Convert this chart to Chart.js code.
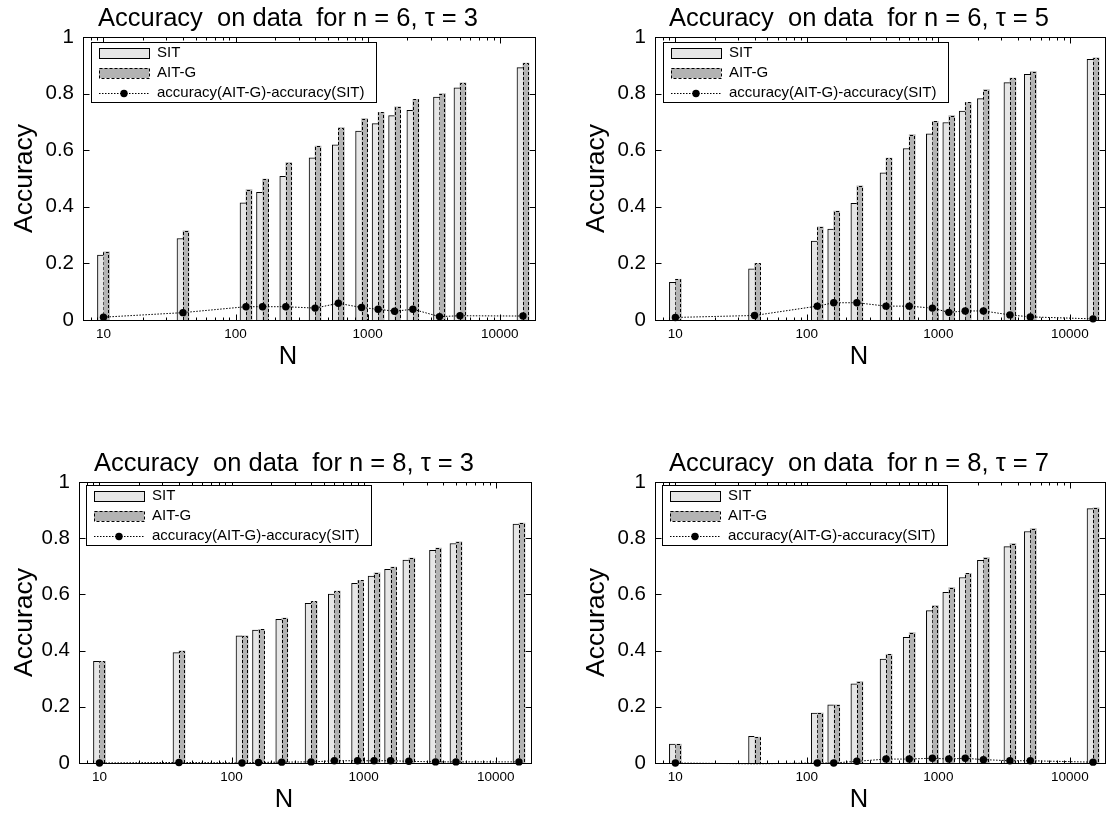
<!DOCTYPE html>
<html>
<head>
<meta charset="utf-8">
<script src="https://cdn.jsdelivr.net/npm/chart.js@4.4.1/dist/chart.umd.min.js"></script>
<style>
  html, body { margin: 0; padding: 0; background: #fff; overflow: hidden; }
  body { width: 1109px; height: 817px; position: relative; }
  canvas { position: absolute; }
</style>
</head>
<body>
<canvas id="c0"></canvas>
<canvas id="c1"></canvas>
<canvas id="c2"></canvas>
<canvas id="c3"></canvas>
<script>
// training set sizes N (x positions of the bar pairs)
const sampleSizes = [10, 40, 120, 160, 240, 400, 600, 900, 1200, 1600, 2200, 3500, 5000, 15000];
const xTickValues = [10, 100, 1000, 10000];
const yTickValues = [0, 0.2, 0.4, 0.6, 0.8, 1];
const seriesNames = ["SIT", "AIT-G", "accuracy(AIT-G)-accuracy(SIT)"];

const titles = [
  "Accuracy  on data  for n = 6, \u03c4 = 3",
  "Accuracy  on data  for n = 6, \u03c4 = 5",
  "Accuracy  on data  for n = 8, \u03c4 = 3",
  "Accuracy  on data  for n = 8, \u03c4 = 7",
];

// n = 6, tau = 3
const sitN6T3 = [0.229, 0.288, 0.414, 0.451, 0.508, 0.573, 0.619, 0.668, 0.694, 0.722, 0.741, 0.788, 0.820, 0.892];
const aitN6T3 = [0.241, 0.315, 0.461, 0.498, 0.556, 0.615, 0.680, 0.712, 0.734, 0.753, 0.780, 0.800, 0.838, 0.908];
const diffN6T3 = [0.010, 0.026, 0.047, 0.047, 0.047, 0.042, 0.059, 0.044, 0.038, 0.031, 0.038, 0.012, 0.015, 0.014];

// n = 6, tau = 5
const sitN6T5 = [0.133, 0.181, 0.279, 0.321, 0.412, 0.520, 0.606, 0.658, 0.698, 0.738, 0.782, 0.839, 0.868, 0.921];
const aitN6T5 = [0.144, 0.200, 0.329, 0.385, 0.474, 0.572, 0.655, 0.702, 0.722, 0.769, 0.814, 0.855, 0.878, 0.926];
const diffN6T5 = [0.009, 0.016, 0.049, 0.061, 0.061, 0.049, 0.049, 0.042, 0.027, 0.032, 0.032, 0.018, 0.011, 0.004];

// n = 8, tau = 3
const sitN8T3 = [0.362, 0.393, 0.453, 0.473, 0.511, 0.568, 0.601, 0.639, 0.665, 0.689, 0.722, 0.757, 0.781, 0.850];
const aitN8T3 = [0.362, 0.399, 0.453, 0.476, 0.516, 0.575, 0.612, 0.650, 0.677, 0.697, 0.729, 0.765, 0.787, 0.854];
const diffN8T3 = [0.000, 0.002, 0.000, 0.002, 0.003, 0.004, 0.008, 0.008, 0.008, 0.008, 0.006, 0.004, 0.004, 0.004];

// n = 8, tau = 7
const sitN8T7 = [0.067, 0.095, 0.178, 0.207, 0.282, 0.370, 0.447, 0.542, 0.607, 0.660, 0.721, 0.770, 0.824, 0.905];
const aitN8T7 = [0.067, 0.092, 0.178, 0.207, 0.290, 0.387, 0.464, 0.560, 0.624, 0.675, 0.731, 0.781, 0.834, 0.908];
const diffN8T7 = [0.000, -0.003, 0.000, 0.000, 0.006, 0.014, 0.014, 0.017, 0.014, 0.017, 0.012, 0.008, 0.008, 0.003];

const FONT = "'Liberation Sans', Arial, Helvetica, sans-serif";
const aitDash = [3, 2];
const diffDash = [1.5, 1.5];

const panels = [
  { id: "c0", left: 0, top: 0, width: 555, height: 380, yAxisWidth: 83, padRight: 20, xAxisHeight: 60, legendDx: 8, legendDy: 5, sit: sitN6T3, ait: aitN6T3, diff: diffN6T3 },
  { id: "c1", left: 572, top: 0, width: 537, height: 380, yAxisWidth: 83, padRight: 2, xAxisHeight: 60, legendDx: 8, legendDy: 5, sit: sitN6T5, ait: aitN6T5, diff: diffN6T5 },
  { id: "c2", left: 0, top: 445, width: 551, height: 372, yAxisWidth: 79, padRight: 20, xAxisHeight: 54, legendDx: 7, legendDy: 3, sit: sitN8T3, ait: aitN8T3, diff: diffN8T3 },
  { id: "c3", left: 572, top: 445, width: 537, height: 372, yAxisWidth: 83, padRight: 2, xAxisHeight: 54, legendDx: 7, legendDy: 3, sit: sitN8T7, ait: aitN8T7, diff: diffN8T7 },
];

// frame with inward ticks on all four sides (drawn under the bars)
const boxAxes = {
  id: "boxAxes",
  beforeDatasetsDraw(chart) {
    const { ctx, chartArea: a, scales } = chart;
    const x = scales.x, y = scales.y;
    const L = Math.round(a.left) + 0.5, R = Math.round(a.right) + 0.5;
    const T = Math.round(a.top) + 0.5, B = Math.round(a.bottom) + 0.5;
    ctx.save();
    ctx.strokeStyle = "#000";
    ctx.lineWidth = 1;
    ctx.beginPath();
    for (let d = 0; d <= 5; d++) {
      for (let m = 1; m <= 9; m++) {
        const v = m * Math.pow(10, d);
        if (v < x.min || v > x.max) continue;
        const px = Math.round(x.getPixelForValue(v)) + 0.5;
        const len = m === 1 ? 6 : 3;
        ctx.moveTo(px, B); ctx.lineTo(px, B - len);
        ctx.moveTo(px, T); ctx.lineTo(px, T + len);
      }
    }
    yTickValues.forEach((v) => {
      const py = Math.round(y.getPixelForValue(v)) + 0.5;
      ctx.moveTo(L, py); ctx.lineTo(L + 6, py);
      ctx.moveTo(R, py); ctx.lineTo(R - 6, py);
    });
    ctx.stroke();
    ctx.strokeRect(L, T, R - L, B - T);
    ctx.restore();
  },
};

// dashed outline for the AIT-G bars
const dashedBars = {
  id: "dashedBars",
  afterDatasetDraw(chart, args) {
    if (args.index !== 1) return;
    const { ctx } = chart;
    ctx.save();
    ctx.strokeStyle = "#000";
    ctx.lineWidth = 1;
    ctx.setLineDash(aitDash);
    args.meta.data.forEach((bar) => {
      const { x, y, base, width } = bar.getProps(["x", "y", "base", "width"], true);
      const l = Math.round(x - width / 2) + 0.5, r = Math.round(x + width / 2) - 0.5;
      const t = Math.round(y) + 0.5;
      ctx.beginPath();
      ctx.moveTo(l, base); ctx.lineTo(l, t); ctx.lineTo(r, t); ctx.lineTo(r, base);
      ctx.stroke();
    });
    ctx.restore();
  },
};

// title and x label (centered slightly left of the axes, as in the figure)
const panelText = {
  id: "panelText",
  afterDraw(chart, args, opts) {
    const { ctx, chartArea: a } = chart;
    const cx = (a.left + a.right) / 2 - 21;
    ctx.save();
    ctx.fillStyle = "#000";
    ctx.textAlign = "center";
    ctx.textBaseline = "alphabetic";
    ctx.font = "25.5px " + FONT;
    ctx.fillText(opts.title, cx, 26);
    ctx.fillText("N", cx, a.bottom + 44);
    ctx.restore();
  },
};

// legend box inside the axes
const legendBox = {
  id: "legendBox",
  afterDraw(chart, args, opts) {
    const { ctx, chartArea: a } = chart;
    const x0 = Math.round(a.left + opts.dx), y0 = Math.round(a.top + opts.dy);
    ctx.save();
    ctx.font = "15px " + FONT;
    const textX = 66;
    let maxW = 0;
    chart.data.datasets.forEach((ds) => { maxW = Math.max(maxW, ctx.measureText(ds.label).width); });
    const w = Math.round(textX + maxW + 11), h = 60;
    ctx.fillStyle = "#fff";
    ctx.fillRect(x0, y0, w, h);
    ctx.strokeStyle = "#000";
    ctx.lineWidth = 1;
    ctx.strokeRect(x0 + 0.5, y0 + 0.5, w, h);
    chart.data.datasets.forEach((ds, i) => {
      const cy = y0 + 10.5 + i * 20.3;
      const sx = x0 + 8, sw = 50;
      if (ds.type === "line") {
        ctx.setLineDash(diffDash);
        ctx.beginPath();
        ctx.moveTo(sx, Math.round(cy) + 0.5);
        ctx.lineTo(sx + sw, Math.round(cy) + 0.5);
        ctx.stroke();
        ctx.setLineDash([]);
        ctx.fillStyle = "#000";
        ctx.beginPath();
        ctx.arc(sx + sw / 2, Math.round(cy) + 0.5, 3.7, 0, Math.PI * 2);
        ctx.fill();
      } else {
        const top = Math.round(cy - 5);
        ctx.fillStyle = ds.backgroundColor;
        ctx.fillRect(sx, top, sw, 10);
        ctx.setLineDash(i === 1 ? aitDash : []);
        ctx.strokeRect(sx + 0.5, top + 0.5, sw, 10);
        ctx.setLineDash([]);
      }
      ctx.fillStyle = "#000";
      ctx.textAlign = "left";
      ctx.textBaseline = "middle";
      ctx.fillText(ds.label, x0 + textX, cy);
    });
    ctx.restore();
  },
};

panels.forEach((p, k) => {
  const canvas = document.getElementById(p.id);
  canvas.width = p.width;
  canvas.height = p.height;
  canvas.style.left = p.left + "px";
  canvas.style.top = p.top + "px";

  const toPoints = (vals) => sampleSizes.map((n, i) => ({ x: n, y: vals[i] }));

  new Chart(canvas, {
    type: "bar",
    data: {
      datasets: [
        {
          label: seriesNames[0],
          data: toPoints(p.sit),
          backgroundColor: "#e6e6e6",
          borderColor: "#000",
          borderWidth: { top: 1, left: 1, right: 0, bottom: 0 },
          borderSkipped: false,
          barThickness: 6,
          order: 1,
        },
        {
          label: seriesNames[1],
          data: toPoints(p.ait),
          backgroundColor: "#b3b3b3",
          borderWidth: 0,
          barThickness: 6,
          order: 2,
        },
        {
          type: "line",
          label: seriesNames[2],
          data: toPoints(p.diff),
          borderColor: "#000",
          borderWidth: 1,
          borderDash: diffDash,
          backgroundColor: "#000",
          pointBackgroundColor: "#000",
          pointBorderWidth: 0,
          pointRadius: (c) => (c.parsed && c.parsed.y < 0 ? 0 : 3.7),
          fill: false,
          tension: 0,
          clip: false,
          order: 0,
        },
      ],
    },
    options: {
      responsive: false,
      animation: false,
      events: [],
      layout: { padding: { top: 37, right: p.padRight, left: 0, bottom: 0 } },
      plugins: {
        legend: { display: false },
        tooltip: { enabled: false },
        title: { display: false },
        panelText: { title: titles[k] },
        legendBox: { dx: p.legendDx, dy: p.legendDy },
      },
      scales: {
        x: {
          type: "logarithmic",
          min: 7,
          max: 18500,
          offset: false,
          grid: { display: false, drawTicks: false },
          border: { display: false },
          afterBuildTicks: (s) => { s.ticks = xTickValues.map((v) => ({ value: v })); },
          afterFit: (s) => { s.height = p.xAxisHeight; },
          ticks: {
            autoSkip: false,
            maxRotation: 0,
            padding: 6,
            color: "#000",
            font: { family: FONT, size: 13.5 },
            callback: (v) => String(v),
          },
        },
        y: {
          min: 0,
          max: 1,
          grid: { display: false, drawTicks: false },
          border: { display: false },
          afterBuildTicks: (s) => { s.ticks = yTickValues.map((v) => ({ value: v })); },
          afterFit: (s) => { s.width = p.yAxisWidth; },
          ticks: {
            padding: 9,
            color: "#000",
            font: { family: FONT, size: 20.5 },
            callback: (v) => (v === 0 ? "0" : v === 1 ? "1" : v.toFixed(1)),
          },
          title: {
            display: true,
            text: "Accuracy",
            color: "#000",
            font: { family: FONT, size: 26.5 },
            padding: { top: 9, bottom: 0 },
          },
        },
      },
    },
    plugins: [boxAxes, dashedBars, panelText, legendBox],
  });
});
</script>
</body>
</html>
